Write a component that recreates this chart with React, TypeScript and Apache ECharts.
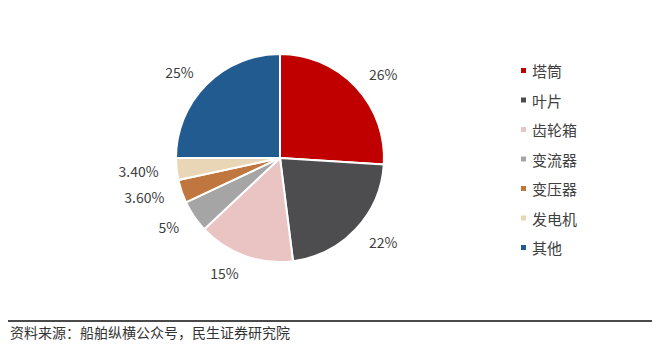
import React, { useEffect, useRef } from "react";
import * as echarts from "echarts";

const categories = ["塔筒", "叶片", "齿轮箱", "变流器", "变压器", "发电机", "其他"];
const values = [26, 22, 15, 5, 3.6, 3.4, 25];
const labelTexts = ["26%", "22%", "15%", "5%", "3.60%", "3.40%", "25%"];
const colors = ["#C00000", "#4D4D4F", "#EAC3C3", "#A5A5A5", "#C0773F", "#E8D6B6", "#215B8F"];
const sourceText = "资料来源：船舶纵横公众号，民生证券研究院";

const FONT = "'Noto Sans CJK SC', 'Microsoft YaHei', sans-serif";

export default function App() {
  const ref = useRef<HTMLDivElement>(null);
  useEffect(() => {
    if (!ref.current) return;
    const chart = echarts.init(ref.current, null, { renderer: "svg" });
    chart.setOption({
      animation: false,
      color: colors,
      legend: {
        orient: "vertical",
        left: 506,
        top: 50,
        itemWidth: 7,
        itemHeight: 7,
        itemGap: 14.5,
        icon: "rect",
        textStyle: { fontFamily: FONT, fontSize: 15, color: "#404040" },
        data: categories,
      },
      graphic: [
        {
          type: "line",
          shape: { x1: 0, y1: 313, x2: 647, y2: 313 },
          style: { stroke: "#4a4a4a", lineWidth: 2 },
        },
        {
          type: "text",
          left: 2,
          top: 317,
          style: { text: sourceText, font: `14px ${FONT}`, fill: "#333333" },
        },
      ],
      series: [
        {
          type: "pie",
          center: [272, 150],
          radius: [0, 104],
          startAngle: 90,
          clockwise: true,
          itemStyle: { borderColor: "#ffffff", borderWidth: 2 },
          label: {
            show: true,
            position: "outside",
            fontFamily: FONT,
            fontSize: 14,
            color: "#404040",
            distanceToLabelLine: 0,
            formatter: (p: any) => labelTexts[p.dataIndex],
          },
          labelLine: { show: false, length: 18, length2: 0 },
          data: categories.map((c, i) => ({ name: c, value: values[i] })),
        },
      ],
    });
    return () => chart.dispose();
  }, []);
  return <div ref={ref} style={{ width: 650, height: 337 }} />;
}
